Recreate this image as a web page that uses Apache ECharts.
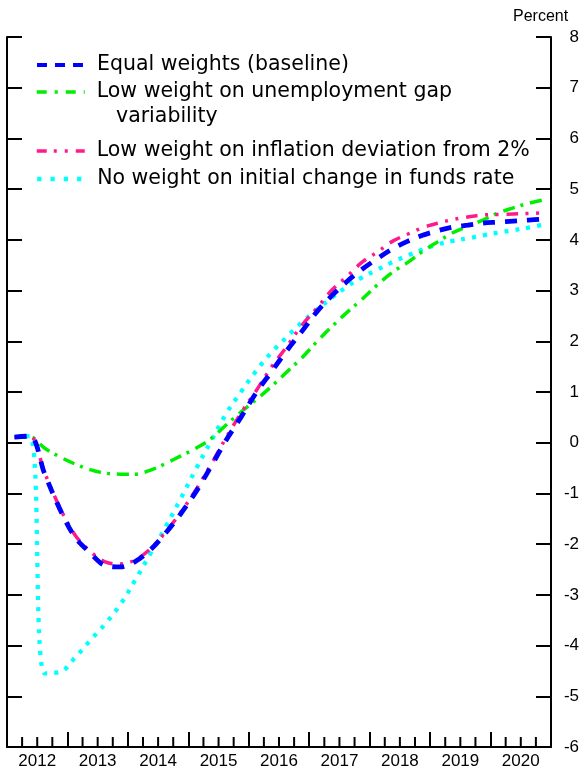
<!DOCTYPE html>
<html>
<head>
<meta charset="utf-8">
<script src="https://cdn.jsdelivr.net/npm/echarts@6/dist/echarts.min.js"></script>
<style>
html,body{margin:0;padding:0;background:#ffffff;}
#chart{width:582px;height:773px;}
</style>
</head>
<body>
<div id="chart"></div>
<script>
// Quarterly observations 2012Q1 .. 2020Q4
const quarters = [
  '2012Q1','2012Q2','2012Q3','2012Q4','2013Q1','2013Q2','2013Q3','2013Q4',
  '2014Q1','2014Q2','2014Q3','2014Q4','2015Q1','2015Q2','2015Q3','2015Q4',
  '2016Q1','2016Q2','2016Q3','2016Q4','2017Q1','2017Q2','2017Q3','2017Q4',
  '2018Q1','2018Q2','2018Q3','2018Q4','2019Q1','2019Q2','2019Q3','2019Q4',
  '2020Q1','2020Q2','2020Q3','2020Q4'
];
const yearLabels = ['2012','2013','2014','2015','2016','2017','2018','2019','2020'];
const yTickLabels = ['-6','-5','-4','-3','-2','-1','0','1','2','3','4','5','6','7','8'];

const seriesNames = [
  'Equal weights (baseline)',
  'Low weight on unemployment gap variability',
  'Low weight on inflation deviation from 2%',
  'No weight on initial change in funds rate'
];

const equalWeights = [
  0.11, 0.13, -0.62, -1.31, -1.86, -2.17, -2.42, -2.45, -2.34, -2.11, -1.78, -1.40,
  -0.97, -0.47, 0.05, 0.51, 0.99, 1.40, 1.81, 2.19, 2.58, 2.90, 3.18, 3.42,
  3.63, 3.82, 3.97, 4.09, 4.18, 4.25, 4.29, 4.33, 4.35, 4.37, 4.39, 4.41
];
const lowUnemploymentWeight = [
  0.11, 0.12, -0.11, -0.28, -0.42, -0.53, -0.60, -0.62, -0.62, -0.54, -0.41, -0.26,
  -0.11, 0.08, 0.35, 0.61, 0.85, 1.11, 1.39, 1.67, 1.99, 2.29, 2.57, 2.83,
  3.11, 3.36, 3.55, 3.77, 3.96, 4.14, 4.27, 4.39, 4.53, 4.63, 4.72, 4.79
];
const lowInflationWeight = [
  0.11, 0.13, -0.60, -1.28, -1.82, -2.14, -2.35, -2.39, -2.31, -2.09, -1.76, -1.37,
  -0.93, -0.43, 0.10, 0.59, 1.03, 1.49, 1.89, 2.31, 2.65, 3.01, 3.28, 3.56,
  3.76, 3.97, 4.11, 4.24, 4.33, 4.40, 4.45, 4.49, 4.50, 4.51, 4.52, 4.53
];
const noFundsRateWeight = [
  0.11, 0.13, -4.55, -4.52, -4.24, -3.90, -3.57, -3.19, -2.70, -2.18, -1.66, -1.10,
  -0.52, 0.03, 0.57, 1.01, 1.42, 1.78, 2.08, 2.37, 2.62, 2.86, 3.08, 3.26,
  3.41, 3.56, 3.69, 3.81, 3.91, 3.98, 4.03, 4.09, 4.14, 4.19, 4.24, 4.30
];

// quarter label -> position in years (middle of the quarter)
function quarterPos(q) {
  const y = parseInt(q.slice(0, 4), 10);
  const n = parseInt(q.slice(5), 10);
  return y + (n - 0.5) / 4;
}
// quarter label -> start of the quarter (tick position)
function quarterStart(q) {
  const y = parseInt(q.slice(0, 4), 10);
  const n = parseInt(q.slice(5), 10);
  return y + (n - 1) / 4;
}
function pairs(values) {
  return quarters.map((q, i) => [quarterPos(q), values[i]]);
}

const firstYear = parseInt(yearLabels[0], 10);
const lastYear = parseInt(yearLabels[yearLabels.length - 1], 10) + 1;
const yMin = parseInt(yTickLabels[0], 10);
const yMax = parseInt(yTickLabels[yTickLabels.length - 1], 10);

const colors = ['#0000ff', '#00ee00', '#ff1a8c', '#00ffff'];
const AX = '#000000';
const labelFont = 'Liberation Sans, Arial, sans-serif';
const legendFont = 'DejaVu Sans, sans-serif';

const chart = echarts.init(document.getElementById('chart'), null, {renderer: 'canvas'});

function makeLegend(name, top, dash, width) {
  return {
    data: [name],
    left: 35,
    top: top,
    orient: 'vertical',
    padding: 0,
    itemWidth: 48,
    itemHeight: 24,
    selectedMode: false,
    formatter: function (n) {
      return n === seriesNames[1] ? 'Low weight on unemployment gap' : n;
    },
    itemStyle: {opacity: 0, borderWidth: 0},
    lineStyle: {type: dash, width: width},
    textStyle: {
      fontFamily: legendFont,
      fontSize: 20.5,
      color: '#000',
      lineHeight: 24,
      padding: [0, 0, 0, 7]
    }
  };
}

const textGraphics = [
  {
    id: 'variability', type: 'text', left: 116, top: 118 - 12,
    style: {text: 'variability', font: '20.5px "DejaVu Sans", sans-serif', fill: '#000', textVerticalAlign: 'top'}
  },
  {
    id: 'percent', type: 'text', left: 513, top: 9,
    style: {text: 'Percent', font: '16px "Liberation Sans", Arial, sans-serif', fill: '#000'}
  }
];

const option = {
  animation: false,
  backgroundColor: '#ffffff',
  grid: {left: 7, right: 31, top: 37, bottom: 26, containLabel: false},
  legend: [
    makeLegend(seriesNames[0], 65 - 12, [10, 8], 4),
    makeLegend(seriesNames[1], 92 - 12, [10, 8, 3, 8], 3.5),
    makeLegend(seriesNames[2], 151 - 12, [10, 7, 3, 8, 3, 8], 3.5),
    makeLegend(seriesNames[3], 179 - 12, [4.3, 9], 4.3)
  ],
  graphic: textGraphics,
  xAxis: [
    {
      type: 'value', min: firstYear, max: lastYear, interval: 1, position: 'bottom', offset: 0,
      axisLine: {show: true, onZero: false, lineStyle: {color: AX, width: 2}},
      axisTick: {show: true, inside: true, length: 15, lineStyle: {color: AX, width: 2}},
      axisLabel: {show: false},
      splitLine: {show: false}
    },
    {
      type: 'value', min: firstYear, max: lastYear, interval: 0.5, position: 'bottom', offset: 0,
      axisLine: {show: false, onZero: false},
      axisTick: {show: false},
      splitLine: {show: false},
      axisLabel: {
        show: true, margin: 6, fontSize: 17, fontFamily: labelFont, color: '#000',
        showMinLabel: true, showMaxLabel: true, hideOverlap: false,
        formatter: function (v) {
          const frac = Math.round((v - Math.floor(v)) * 10);
          if (frac !== 5) return '';
          const lab = yearLabels[Math.floor(v) - firstYear];
          return lab === undefined ? '' : lab;
        }
      }
    }
  ],
  yAxis: [
    {
      type: 'value', min: yMin, max: yMax, interval: 1, position: 'left',
      axisLine: {show: true, onZero: false, lineStyle: {color: AX, width: 2}},
      axisTick: {show: true, inside: true, length: 15, lineStyle: {color: AX, width: 2}},
      axisLabel: {show: false},
      splitLine: {show: false}
    },
    {
      type: 'value', min: yMin, max: yMax, interval: 1, position: 'right',
      axisLine: {show: true, onZero: false, lineStyle: {color: AX, width: 2}},
      axisTick: {show: true, inside: true, length: 15, lineStyle: {color: AX, width: 2}},
      axisLabel: {
        show: true, margin: 28, align: 'right', fontSize: 17, fontFamily: labelFont, color: '#000',
        formatter: function (v) {
          const lab = yTickLabels[Math.round(v) - yMin];
          return lab === undefined ? '' : lab;
        }
      },
      splitLine: {show: false}
    }
  ],
  series: [
    {
      name: seriesNames[3], type: 'line', data: pairs(noFundsRateWeight),
      xAxisIndex: 0, yAxisIndex: 0, smooth: 0.4, symbol: 'none', showSymbol: false,
      lineStyle: {color: colors[3], width: 4.3, type: [4, 7]}, itemStyle: {color: colors[3]}, z: 2
    },
    {
      name: seriesNames[1], type: 'line', data: pairs(lowUnemploymentWeight),
      xAxisIndex: 0, yAxisIndex: 0, smooth: 0.35, symbol: 'none', showSymbol: false,
      lineStyle: {color: colors[1], width: 3.5, type: [12, 6, 3, 7]}, itemStyle: {color: colors[1]}, z: 3
    },
    {
      name: seriesNames[2], type: 'line', data: pairs(lowInflationWeight),
      xAxisIndex: 0, yAxisIndex: 0, smooth: 0.35, symbol: 'none', showSymbol: false,
      lineStyle: {color: colors[2], width: 3.5, type: [11.5, 7.5, 3, 7.5, 3, 8]}, itemStyle: {color: colors[2]}, z: 4
    },
    {
      name: seriesNames[0], type: 'line', data: pairs(equalWeights),
      xAxisIndex: 0, yAxisIndex: 0, smooth: 0.35, symbol: 'none', showSymbol: false,
      lineStyle: {color: colors[0], width: 4.8, type: [12, 10]}, itemStyle: {color: colors[0]}, z: 5
    }
  ]
};
chart.setOption(option);

// Quarterly minor ticks on the time axis, placed through the axis scale
const baseY = chart.convertToPixel({yAxisIndex: 0}, yMin);
const minorTicks = [];
quarters.forEach(function (q, i) {
  const pos = quarterStart(q);
  if (Math.abs(pos - Math.round(pos)) < 1e-9) return; // year boundaries already have major ticks
  const px = chart.convertToPixel({xAxisIndex: 0}, pos);
  minorTicks.push({
    id: 'qtick' + i, type: 'line', silent: true, z: 1,
    shape: {x1: px, y1: baseY, x2: px, y2: baseY - 10},
    style: {stroke: AX, lineWidth: 2}
  });
});
chart.setOption({graphic: textGraphics.concat(minorTicks)});
</script>
</body>
</html>
